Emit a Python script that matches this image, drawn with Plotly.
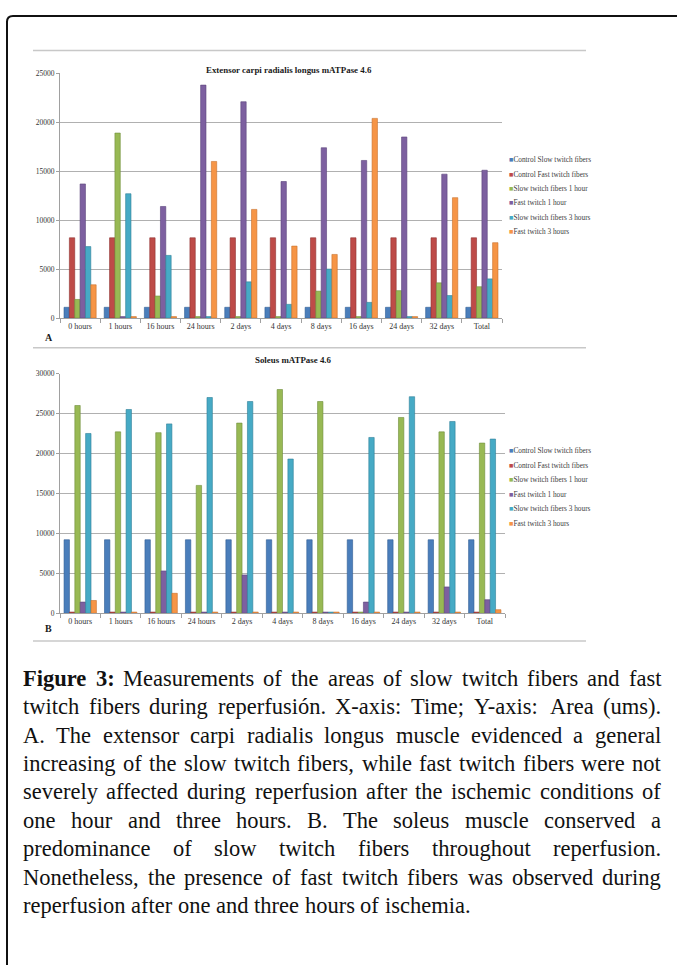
import plotly.graph_objects as go

W, H = 677, 968

# ---------------- data ----------------
categories = ["0 hours", "1 hours", "16 hours", "24 hours", "2 days", "4 days",
              "8 days", "16 days", "24 days", "32 days", "Total"]
series_names = ["Control Slow twitch fibers", "Control Fast twitch fibers",
                "Slow twitch fibers  1 hour", "Fast twitch 1 hour",
                "Slow twitch fibers  3 hours", "Fast twitch 3 hours"]

# A. Extensor carpi radialis longus mATPase 4.6
ecrl_control_slow = [1100, 1100, 1100, 1100, 1100, 1100, 1100, 1100, 1100, 1100, 1100]
ecrl_control_fast = [8200, 8200, 8200, 8200, 8200, 8200, 8200, 8200, 8200, 8200, 8200]
ecrl_slow_1h = [1900, 18900, 2250, 150, 150, 150, 2750, 150, 2800, 3600, 3200]
ecrl_fast_1h = [13700, 150, 11400, 23800, 22100, 13950, 17400, 16100, 18500, 14700, 15100]
ecrl_slow_3h = [7300, 12700, 6400, 150, 3700, 1400, 5000, 1600, 150, 2300, 4000]
ecrl_fast_3h = [3400, 150, 150, 16000, 11100, 7350, 6500, 20400, 150, 12300, 7700]

# B. Soleus mATPase 4.6
sol_control_slow = [9200, 9200, 9200, 9200, 9200, 9200, 9200, 9200, 9200, 9200, 9200]
sol_control_fast = [150, 150, 150, 150, 150, 150, 150, 150, 150, 150, 150]
sol_slow_1h = [26000, 22700, 22600, 16000, 23800, 28000, 26500, 150, 24500, 22700, 21300]
sol_fast_1h = [1400, 150, 5300, 150, 4800, 150, 150, 1400, 150, 3300, 1700]
sol_slow_3h = [22500, 25500, 23700, 27000, 26500, 19300, 150, 22000, 27100, 24000, 21800]
sol_fast_3h = [1600, 150, 2500, 150, 150, 150, 150, 150, 150, 150, 450]

top_ticks = [0, 5000, 10000, 15000, 20000, 25000]
bottom_ticks = [0, 5000, 10000, 15000, 20000, 25000, 30000]

top_title = "Extensor carpi radialis longus mATPase 4.6"
bottom_title = "Soleus mATPase 4.6"

caption_label = ["Figure", "3:"]
caption_lines = [
    "Measurements of the areas of slow twitch fibers and fast",
    "twitch fibers during reperfusión. X-axis: Time; Y-axis: Area (ums).",
    "A. The extensor carpi radialis longus muscle evidenced a general",
    "increasing of the slow twitch fibers, while fast twitch fibers were not",
    "severely affected during reperfusion after the ischemic conditions of",
    "one hour and three hours. B. The soleus muscle conserved a",
    "predominance of slow twitch fibers throughout reperfusion.",
    "Nonetheless, the presence of fast twitch fibers was observed during",
    "reperfusion after one and three hours of ischemia.",
]

# ---------------- style ----------------
colors = ["#4a7ebb", "#be4b48", "#98b954", "#7d60a0", "#46aac5", "#f69546"]
edges = ["#2f5c94", "#8e3330", "#6f8d3a", "#5a437a", "#2f8099", "#c8702c"]
SERIF = "Liberation Serif"


def px(x):
    return x / W


def py(y):
    return 1 - y / H


fig = go.Figure()

top_data = [ecrl_control_slow, ecrl_control_fast, ecrl_slow_1h, ecrl_fast_1h, ecrl_slow_3h, ecrl_fast_3h]
bot_data = [sol_control_slow, sol_control_fast, sol_slow_1h, sol_fast_1h, sol_slow_3h, sol_fast_3h]

for i, (name, vals) in enumerate(zip(series_names, top_data)):
    fig.add_trace(go.Bar(x=categories, y=vals, name=name, marker_color=colors[i],
                         marker_line=dict(color=edges[i], width=0.6),
                         showlegend=False, xaxis="x", yaxis="y"))
for i, (name, vals) in enumerate(zip(series_names, bot_data)):
    fig.add_trace(go.Bar(x=categories, y=vals, name=name, marker_color=colors[i],
                         marker_line=dict(color=edges[i], width=0.6),
                         showlegend=False, xaxis="x2", yaxis="y2"))

axis_common_x = dict(type="category", tickson="boundaries", ticks="outside", ticklen=4,
                     tickcolor="#a0a0a0", showline=True, linecolor="#a0a0a0", linewidth=1.2,
                     showgrid=False, tickfont=dict(family=SERIF, size=8, color="#333333"))
axis_common_y = dict(ticks="outside", ticklen=3, tickcolor="#a0a0a0", showline=True,
                     linecolor="#a0a0a0", linewidth=1.2, showgrid=True, gridcolor="#b0b0b0",
                     gridwidth=1.3, zeroline=False, tickformat="d",
                     tickfont=dict(family=SERIF, size=7.5, color="#333333"))

fig.update_layout(
    width=W, height=H, margin=dict(l=0, r=0, t=0, b=0),
    paper_bgcolor="white", plot_bgcolor="white",
    barmode="group", bargap=0.2, bargroupgap=0.0,
    xaxis=dict(domain=[px(60), px(502)], anchor="y", **axis_common_x),
    yaxis=dict(domain=[py(317), py(70)], anchor="x", range=[0, 25000],
               tickvals=top_ticks, **axis_common_y),
    xaxis2=dict(domain=[px(60), px(505)], anchor="y2", **axis_common_x),
    yaxis2=dict(domain=[py(615), py(373)], anchor="x2", range=[0, 30000],
                tickvals=bottom_ticks, **axis_common_y),
)

annotations = []
shapes = []

# chart titles and panel letters
annotations.append(dict(x=px(289), y=py(60), xref="paper", yref="paper", showarrow=False,
                        text="<b>" + top_title + "</b>", font=dict(family=SERIF, size=8.9, color="#1a1a1a")))
annotations.append(dict(x=px(293), y=py(359), xref="paper", yref="paper", showarrow=False,
                        text="<b>" + bottom_title + "</b>", font=dict(family=SERIF, size=8.9, color="#1a1a1a")))
annotations.append(dict(x=px(43), y=py(337), xref="paper", yref="paper", showarrow=False,
                        text="<b>A</b>", font=dict(family=SERIF, size=10, color="#1a1a1a")))
annotations.append(dict(x=px(43), y=py(630), xref="paper", yref="paper", showarrow=False,
                        text="<b>B</b>", font=dict(family=SERIF, size=10, color="#1a1a1a")))

# legends
for base in (157, 451):
    for i, name in enumerate(series_names):
        annotations.append(dict(
            x=px(507), y=py(base + i * 14.6), xref="paper", yref="paper", showarrow=False,
            xanchor="left", yanchor="middle",
            text='<span style="color:%s">■</span>%s' % (colors[i], name.replace("  ", " ")),
            font=dict(family=SERIF, size=7.3, color="#404040")))

# separator lines
for yy in (47, 347, 643):
    shapes.append(dict(type="line", xref="paper", yref="paper", x0=px(33), x1=px(586),
                       y0=py(yy), y1=py(yy), line=dict(color="#c8c8c8", width=1.5)))

# frame with rounded corner
r = 6
path = "M %f,%f L %f,%f Q %f,%f %f,%f L %f,%f" % (
    px(7), py(H + 2), px(7), py(12 + r), px(7), py(12), px(7 + r), py(12), px(W + 2), py(12))
shapes.append(dict(type="path", xref="paper", yref="paper", path=path,
                   line=dict(color="#111111", width=2)))

# ---------------- caption (justified) ----------------
TIMES = {' ': 250, '(': 333, ')': 333, ',': 250, '-': 333, '.': 250, ':': 278, ';': 278,
         'ó': 500, '0': 500, '1': 500, '2': 500, '3': 500, '4': 500, '5': 500, '6': 500,
         '7': 500, '8': 500, '9': 500,
         'A': 722, 'B': 667, 'C': 667, 'D': 722, 'E': 611, 'F': 556, 'G': 722, 'H': 722,
         'I': 333, 'J': 389, 'K': 722, 'L': 611, 'M': 889, 'N': 722, 'O': 722, 'P': 556,
         'Q': 722, 'R': 667, 'S': 556, 'T': 611, 'U': 722, 'V': 722, 'W': 944, 'X': 722,
         'Y': 722, 'Z': 611,
         'a': 444, 'b': 500, 'c': 444, 'd': 500, 'e': 444, 'f': 333, 'g': 500, 'h': 500,
         'i': 278, 'j': 278, 'k': 500, 'l': 278, 'm': 778, 'n': 500, 'o': 500, 'p': 500,
         'q': 500, 'r': 333, 's': 389, 't': 278, 'u': 500, 'v': 500, 'w': 722, 'x': 500,
         'y': 500, 'z': 444}
TIMES_BOLD = {'F': 611, 'i': 278, 'g': 500, 'u': 556, 'r': 444, 'e': 444, '3': 500, ':': 333}

CAP_SIZE = 22.5
LEFT, RIGHT = 22, 660


def width(word, bold=False):
    table = TIMES_BOLD if bold else TIMES
    return sum(table.get(ch, 500) for ch in word) / 1000.0 * CAP_SIZE


for li, line in enumerate(caption_lines):
    tokens = [(w, False) for w in line.split()]
    if li == 0:
        tokens = [(w, True) for w in caption_label] + tokens
    widths = [width(w, b) for w, b in tokens]
    if li == len(caption_lines) - 1:
        gap = width(" ")
    else:
        gap = (RIGHT - LEFT - sum(widths)) / (len(tokens) - 1)
    x = LEFT
    yc = 680.5 + li * 28.7
    for (w, b), wd in zip(tokens, widths):
        annotations.append(dict(
            x=px(x), y=py(yc), xref="paper", yref="paper", showarrow=False,
            xanchor="left", yanchor="middle", borderpad=0,
            text=("<b>%s</b>" % w) if b else w,
            font=dict(family=SERIF, size=CAP_SIZE, color="#111111")))
        x += wd + gap

fig.update_layout(annotations=annotations, shapes=shapes)

fig.write_html("out.html")
